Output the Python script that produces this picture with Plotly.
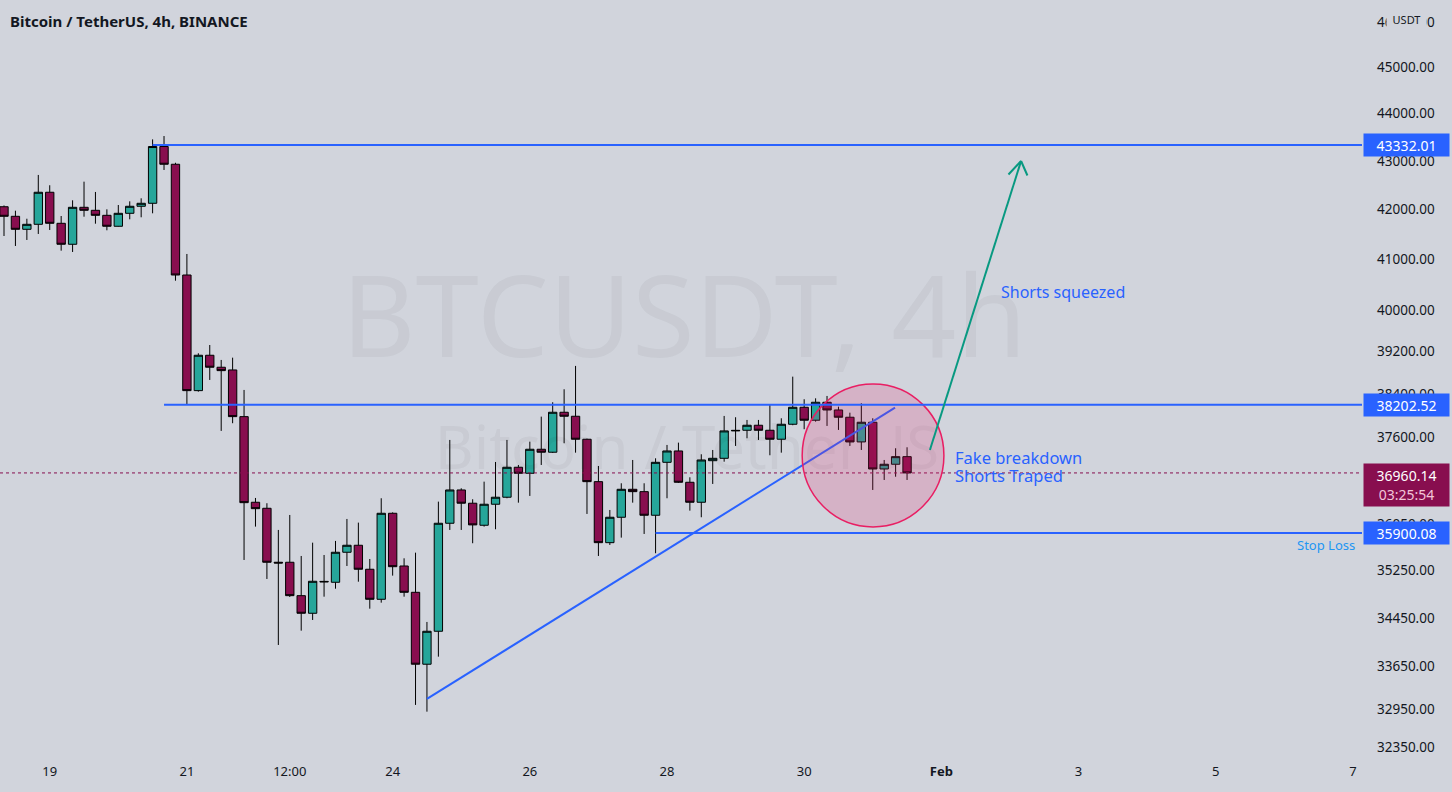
import math
import pandas as pd
import plotly.graph_objects as go

# ---------------- data ----------------
start_time = "2022-01-18 08:00"
bar_hours = 4

opens = [42054, 41859, 41596, 41697, 42350, 41717, 41295, 42042, 41981, 41879,
         41657, 41920, 42063, 42124, 43300, 42929, 40684, 38465, 39131, 38904,
         38853, 37983, 36438, 36332, 35393, 35393, 34824, 34528, 35055, 35051,
         35565, 35686, 35273, 34763, 36244, 35329, 34881, 33685, 34228, 36069,
         36656, 36421, 36034, 36403, 36527, 37062, 36954, 37387, 37333, 38064,
         37990, 37569, 36804, 35731, 36174, 36668, 36626, 36209, 37151, 37356,
         36793, 36438, 37180, 37223, 37721, 37733, 37825, 37733, 37569, 37843,
         38156, 37917, 38249, 38106, 37972, 37520, 37880, 37031, 37116, 37253]
highs = [42080, 41973, 41810, 42707, 42494, 41865, 42185, 42568, 42356, 42001,
         42089, 42164, 42226, 43450, 43521, 42960, 41101, 39169, 39326, 39042,
         39085, 38478, 36514, 36421, 35952, 36214, 35501, 35731, 35518, 35761,
         36144, 36080, 35449, 36509, 36260, 35461, 35558, 34383, 36449, 37556,
         36686, 36491, 36804, 37157, 37556, 37103, 37525, 37983, 38249, 38491,
         38929, 37580, 37085, 36302, 36775, 37193, 36775, 37223, 37465, 37507,
         36882, 37296, 37374, 37996, 37972, 37922, 37922, 38212, 37953, 38727,
         38305, 38322, 38366, 38167, 38056, 38231, 37953, 37193, 37405, 37423]
lows = [41461, 41261, 41381, 41502, 41582, 41167, 41141, 41851, 41709, 41576,
        41650, 41798, 41839, 41920, 42810, 40572, 38199, 38446, 38665, 37721,
        37862, 35432, 36010, 35107, 34001, 34802, 34238, 34416, 34807, 34942,
        35329, 35061, 34605, 34706, 35164, 34807, 33027, 32919, 33809, 35952,
        35952, 35721, 36010, 35964, 36509, 36431, 36550, 37103, 37320, 37496,
        37325, 36232, 35501, 35691, 35818, 36431, 35882, 35548, 36509, 36780,
        36290, 36174, 36763, 37162, 37447, 37587, 37556, 37278, 37325, 37825,
        37752, 37891, 37812, 37739, 37447, 37374, 36656, 36834, 36892, 36834]
closes = [41859, 41596, 41697, 42350, 41717, 41295, 42042, 41981, 41879, 41657,
          41920, 42063, 42124, 43300, 42929, 40684, 38465, 39131, 38904, 38840,
          37983, 36431, 36325, 35393, 35380, 34824, 34528, 35068, 35065, 35565,
          35686, 35273, 34763, 36244, 35317, 34881, 33685, 34228, 36069, 36656,
          36421, 36040, 36403, 36527, 37062, 36954, 37387, 37333, 38064, 37990,
          37569, 36804, 35731, 36174, 36668, 36626, 36209, 37151, 37356, 36793,
          36438, 37193, 37223, 37721, 37730, 37825, 37733, 37569, 37843, 38156,
          37917, 38249, 38106, 37972, 37520, 37880, 37031, 37116, 37253, 36960.14]

level_high = 43332.01
level_mid = 38202.52
stop_loss = 35900.08
last_price = 36960.14
time_left = "03:25:54"

trend_start_price = 33123
trend_end_price = 38149

y_tick_vals = [46000, 45000, 44000, 43000, 42000, 41000, 40000, 39200, 38400,
               37600, 36050, 35250, 34450, 33650, 32950, 32350]
x_tick_vals = ["2022-01-19", "2022-01-21", "2022-01-22 12:00", "2022-01-24",
               "2022-01-26", "2022-01-28", "2022-01-30", "2022-02-01",
               "2022-02-03", "2022-02-05", "2022-02-07"]
x_tick_text = ["19", "21", "12:00", "24", "26", "28", "30", "<b>Feb</b>",
               "3", "5", "7"]

# ---------------- styles ----------------
BG = "#d1d4dc"
TXT = "#131722"
UP = "#26a69a"
DOWN = "#880e4f"
BLUE = "#2962ff"
GREEN = "#089981"
PINK = "#e91e63"
FONT = "Noto Sans"

t0 = pd.Timestamp(start_time)
times = pd.date_range(t0, periods=len(opens), freq=f"{bar_hours}h")
H = pd.Timedelta(hours=1)
x_left = t0 - 1.4 * H
x_right = t0 + 475.2 * H
y_bottom, y_top = 32125, 46489

fig = go.Figure()

# watermark (below the candles)
fig.add_trace(go.Scatter(
    x=[t0 + 238 * H], y=[39650], mode="text", text=["BTCUSDT, 4h"],
    textfont=dict(family=FONT, size=114, color="rgba(19,23,34,0.045)"),
    hoverinfo="skip", showlegend=False))
fig.add_trace(go.Scatter(
    x=[t0 + 239 * H], y=[37300], mode="text", text=["Bitcoin / TetherUS"],
    textfont=dict(family=FONT, size=60, color="rgba(19,23,34,0.045)"),
    hoverinfo="skip", showlegend=False))

fig.add_trace(go.Candlestick(
    x=times, open=opens, high=highs, low=lows, close=closes,
    increasing=dict(fillcolor=UP, line=dict(color="#000000", width=1)),
    decreasing=dict(fillcolor=DOWN, line=dict(color="#000000", width=1)),
    whiskerwidth=0, hoverinfo="skip", showlegend=False))

shapes = []
# current price dotted line
shapes.append(dict(type="line", xref="x", yref="y", x0=x_left, x1=x_right,
                   y0=last_price, y1=last_price,
                   line=dict(color=DOWN, width=1, dash="dot"), layer="above"))
# trend line
shapes.append(dict(type="line", xref="x", yref="y",
                   x0=times[37], y0=trend_start_price,
                   x1=t0 + 311.8 * H, y1=trend_end_price,
                   line=dict(color=BLUE, width=2), layer="above"))
# circle
shapes.append(dict(type="circle", xref="x", yref="y",
                   x0=t0 + 279.3 * H, x1=t0 + 328.9 * H,
                   y0=36005, y1=38590,
                   line=dict(color=PINK, width=1.5),
                   fillcolor="rgba(233,30,99,0.18)", layer="above"))
# horizontal levels
for x0, lvl in [(times[13], level_high), (times[14], level_mid), (times[57], stop_loss)]:
    shapes.append(dict(type="line", xref="x", yref="y", x0=x0, x1=x_right,
                       y0=lvl, y1=lvl, line=dict(color=BLUE, width=2), layer="above"))
# green arrow shaft
tip_t = t0 + 355.9 * H
tip_p = 42997
shapes.append(dict(type="line", xref="x", yref="y", x0=t0 + 324 * H, y0=37374,
                   x1=tip_t, y1=tip_p, line=dict(color=GREEN, width=2), layer="above"))

annotations = []
# arrow head wings (pixel offsets from the tip, screen y downward)
for dx, dy in [(-14, 15), (7, 16)]:
    annotations.append(dict(xref="x", x=tip_t, yref="y", y=math.log10(tip_p),
                            text="", showarrow=True, arrowhead=0, arrowwidth=2,
                            arrowcolor=GREEN, ax=dx, ay=dy, standoff=0,
                            startstandoff=0))


def tag(price, text, color, h=20, anchor="middle", yshift=0):
    return dict(xref="paper", x=1, xanchor="left", xshift=1, yref="y",
                y=math.log10(price), yanchor=anchor, yshift=yshift, text=text,
                showarrow=False, bgcolor=color, width=83, height=h, align="center",
                font=dict(color="#ffffff", size=14, family=FONT))


annotations.append(tag(level_high, f"{level_high:.2f}", BLUE))
annotations.append(tag(level_mid, f"{level_mid:.2f}", BLUE))
annotations.append(tag(stop_loss, f"{stop_loss:.2f}", BLUE))
annotations.append(tag(last_price,
                       f"{last_price:.2f}<br><span style='color:#f2c6d8'>{time_left}</span>",
                       DOWN, h=40, anchor="top", yshift=10))
# USDT label at top of the price scale
annotations.append(dict(xref="paper", x=1, xanchor="center", xshift=44.5,
                        yref="paper", y=1, yanchor="top", yshift=-10,
                        text="USDT", showarrow=False, bgcolor=BG, width=37, height=15,
                        font=dict(color=TXT, size=11, family=FONT)))
# title
annotations.append(dict(xref="paper", x=0, xanchor="left", xshift=8,
                        yref="paper", y=1, yanchor="top", yshift=-9,
                        text="<b>Bitcoin / TetherUS, 4h, BINANCE</b>", showarrow=False,
                        font=dict(color=TXT, size=15, family=FONT)))
# chart notes
annotations.append(dict(xref="x", x=t0 + 348.2 * H, xanchor="left",
                        yref="y", y=math.log10(40351), yanchor="middle",
                        text="Shorts squeezed", showarrow=False,
                        font=dict(color=BLUE, size=16, family=FONT)))
annotations.append(dict(xref="x", x=t0 + 332.1 * H, xanchor="left",
                        yref="y", y=math.log10(37229), yanchor="middle",
                        text="Fake breakdown", showarrow=False,
                        font=dict(color=BLUE, size=16.5, family=FONT)))
annotations.append(dict(xref="x", x=t0 + 332.1 * H, xanchor="left",
                        yref="y", y=math.log10(36923), yanchor="middle",
                        text="Shorts Traped", showarrow=False,
                        font=dict(color=BLUE, size=16.5, family=FONT)))
annotations.append(dict(xref="paper", x=1, xanchor="right", xshift=-5,
                        yref="y", y=math.log10(35691), yanchor="middle",
                        text="Stop Loss", showarrow=False,
                        font=dict(color="#2196f3", size=13, family=FONT)))

fig.update_layout(
    width=1452, height=792,
    margin=dict(l=0, r=90, t=0, b=30),
    paper_bgcolor=BG, plot_bgcolor=BG,
    showlegend=False,
    font=dict(family=FONT, color=TXT, size=13),
    shapes=shapes, annotations=annotations,
    hovermode=False,
    boxgap=0.27, boxgroupgap=0,
    xaxis=dict(type="date", range=[x_left, x_right],
               rangeslider=dict(visible=False),
               showgrid=False, zeroline=False, showline=False, ticks="",
               tickvals=x_tick_vals, ticktext=x_tick_text,
               tickfont=dict(size=13, color=TXT, family=FONT)),
    yaxis=dict(type="log", side="right",
               range=[math.log10(y_bottom), math.log10(y_top)],
               showgrid=False, zeroline=False, showline=False, ticks="",
               tickvals=y_tick_vals, ticktext=[f"{v:.2f}" for v in y_tick_vals],
               ticklabelstandoff=14,
               tickfont=dict(size=13.5, color=TXT, family=FONT)),
)

fig.write_html("out.html", config={"displayModeBar": False},
               post_script="document.body.style.margin='0';document.body.style.padding='0';document.body.style.overflow='hidden';")
